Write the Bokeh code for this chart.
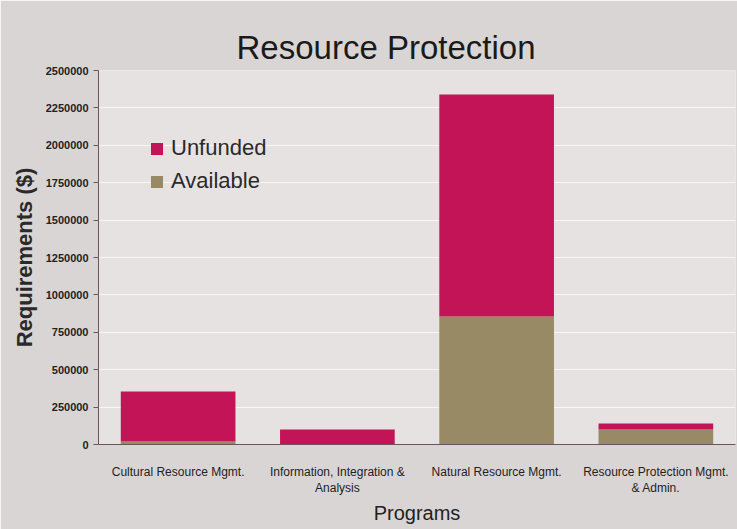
from bokeh.plotting import figure
from bokeh.models import Legend, LegendItem, ColumnDataSource, NumeralTickFormatter, FixedTicker
from bokeh.embed import file_html
from bokeh.resources import INLINE

categories = ["Cultural Resource Mgmt.", "Information, Integration &\nAnalysis",
              "Natural Resource Mgmt.", "Resource Protection Mgmt.\n& Admin."]
available = [20000, 0, 855000, 100000]
unfunded = [335000, 100000, 1485000, 40000]
y_ticks = [0, 250000, 500000, 750000, 1000000, 1250000, 1500000, 1750000,
           2000000, 2250000, 2500000]

UNF = "#c21456"
AVL = "#978a64"
BG = "#dad5d5"
NARROW = "'Liberation Sans Narrow', 'Arial Narrow', 'Liberation Sans', sans-serif"

src = ColumnDataSource(dict(cat=categories, Available=available, Unfunded=unfunded))

p = figure(x_range=categories, y_range=(0, 2500000), width=737, height=529,
           output_backend="svg", toolbar_location=None,
           min_border_left=98, min_border_right=2, min_border_top=70, min_border_bottom=85,
           background_fill_color="#e6e2e2", border_fill_color=BG,
           title="Resource Protection")
p.title.text_font = "Liberation Sans"
p.title.text_font_size = "33px"
p.title.text_font_style = "normal"
p.title.text_color = "#1a1a1a"
p.title.align = "left"
p.title.offset = 138
p.outline_line_color = None

r = p.vbar_stack(["Available", "Unfunded"], x="cat", width=0.72, source=src,
                 color=[AVL, UNF], line_color=None)

p.yaxis.ticker = FixedTicker(ticks=y_ticks)
p.yaxis.formatter = NumeralTickFormatter(format="0")
p.yaxis.axis_label = "Requirements ($)"
p.yaxis.axis_label_text_font = "Liberation Sans"
p.yaxis.axis_label_text_font_style = "bold"
p.yaxis.axis_label_text_font_size = "22px"
p.yaxis.axis_label_text_color = "#2a2a2a"
p.yaxis.major_label_text_font = NARROW
p.yaxis.major_label_text_font_size = "11px"
p.yaxis.major_label_text_color = "#222222"
p.yaxis.major_label_text_font_style = "bold"
p.yaxis.minor_tick_line_color = None
p.yaxis.major_tick_in = 0
p.yaxis.major_tick_out = 5
p.yaxis.axis_line_color = "#6a5560"
p.yaxis.major_tick_line_color = "#6a5560"
p.yaxis.axis_label_standoff = 6

p.xaxis.axis_label = "Programs"
p.xaxis.axis_label_text_font = "Liberation Sans"
p.xaxis.axis_label_text_font_style = "normal"
p.xaxis.axis_label_text_font_size = "20px"
p.xaxis.axis_label_text_color = "#222222"
p.xaxis.major_label_text_font = NARROW
p.xaxis.major_label_text_font_size = "12px"
p.xaxis.major_label_text_color = "#222222"
p.xaxis.major_tick_line_color = None
p.xaxis.axis_line_color = "#6a5560"
p.xaxis.major_label_standoff = 14
p.xaxis.axis_label_standoff = 4

p.xgrid.grid_line_color = None
p.ygrid.grid_line_color = "#ffffff"
p.ygrid.grid_line_alpha = 0.7

legend = Legend(items=[LegendItem(label="Unfunded", renderers=[r[1]]),
                       LegendItem(label="Available", renderers=[r[0]])],
                location=(51, 250), background_fill_alpha=0, border_line_color=None,
                label_text_font="Liberation Sans", label_text_font_size="22px",
                label_text_color="#2a2a2a", glyph_width=15, glyph_height=15,
                spacing=7, label_standoff=7)
p.add_layout(legend, "center")

open("out.html", "w").write(file_html(p, INLINE))
